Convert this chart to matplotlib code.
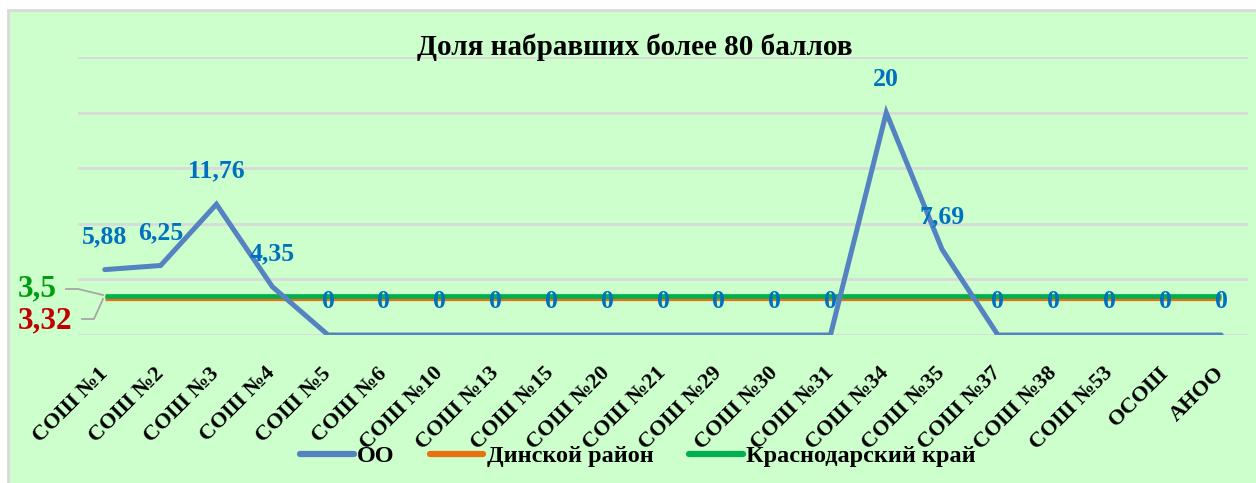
import matplotlib.pyplot as plt
from matplotlib.patches import Rectangle
from matplotlib.lines import Line2D

# data
schools = ['СОШ №1', 'СОШ №2', 'СОШ №3', 'СОШ №4', 'СОШ №5', 'СОШ №6', 'СОШ №10',
           'СОШ №13', 'СОШ №15', 'СОШ №20', 'СОШ №21', 'СОШ №29', 'СОШ №30', 'СОШ №31',
           'СОШ №34', 'СОШ №35', 'СОШ №37', 'СОШ №38', 'СОШ №53', 'ОСОШ', 'АНОО']
oo = [5.88, 6.25, 11.76, 4.35, 0, 0, 0, 0, 0, 0, 0, 0, 0, 0, 20, 7.69, 0, 0, 0, 0, 0]
district = 3.32
region = 3.5
series_names = ['ОО', 'Динской район', 'Краснодарский край']

BG = '#CCFFCC'
BLUE = '#5582C0'
LBL = '#0070C0'
ORANGE = '#E8700F'
GREEN = '#00B050'
FONT = 'Liberation Serif'

plt.rcParams['font.family'] = [FONT, 'DejaVu Serif']
plt.rcParams['font.weight'] = 'bold'

W, H = 1256, 483
fig = plt.figure(figsize=(W / 100, H / 100), dpi=100, facecolor='white')
bg = Rectangle((8 / W, -0.05), 1.2, 1 - 10 / H + 0.05, transform=fig.transFigure,
               facecolor=BG, edgecolor='#D9D9D9', linewidth=2, zorder=-10)
fig.patches.append(bg)

ax = fig.add_axes([78 / W, 1 - 335 / H, (1248 - 78) / W, (335 - 57) / H])
ax.set_zorder(1)
ax.set_facecolor('none')
x = list(range(len(schools)))
ax.set_xlim(-0.48, len(schools) - 1 + 0.48)
ax.set_ylim(0, 25)
ax.set_yticks([0, 5, 10, 15, 20, 25])
ax.yaxis.grid(True, color='#D9D9D9', linewidth=2)
ax.set_axisbelow(True)
ax.tick_params(axis='y', left=False, labelleft=False)
ax.tick_params(axis='x', bottom=False, pad=22)
for s in ax.spines.values():
    s.set_visible(False)

ax.plot(x, [district] * len(x), color=ORANGE, linewidth=3.8, solid_capstyle='butt', zorder=3)
ax.plot(x, [region] * len(x), color=GREEN, linewidth=3.4, solid_capstyle='butt', zorder=4)
ax.plot(x, oo, color=BLUE, linewidth=3.6, solid_capstyle='round', solid_joinstyle='miter', zorder=5)

for xi, v in zip(x, oo):
    txt = ('%g' % v).replace('.', ',')
    ax.annotate(txt, (xi, v), xytext=(0, 33), textcoords='offset pixels',
                ha='center', va='center', color=LBL, fontsize=18.5, fontweight='bold', zorder=6)

ax.set_xticks(x)
ax.set_xticklabels(schools, rotation=45, ha='right', va='center', rotation_mode='anchor',
                   fontsize=16, fontweight='bold')

# labels for the average lines with leader lines
fig.text(18 / W, 1 - 289 / H, '3,5', color='#009E0F', fontsize=22.5, fontweight='bold',
         ha='left', va='center')
fig.text(18 / W, 1 - 321 / H, '3,32', color='#C00000', fontsize=22.5, fontweight='bold',
         ha='left', va='center')
fig.lines.append(Line2D([66 / W, 78 / W, 103 / W], [1 - 289 / H, 1 - 289 / H, 1 - 295 / H],
                        transform=fig.transFigure, color='#A6A6A6', linewidth=1.3))
fig.lines.append(Line2D([82 / W, 94 / W, 103 / W], [1 - 319 / H, 1 - 319 / H, 1 - 299 / H],
                        transform=fig.transFigure, color='#A6A6A6', linewidth=1.3))

fig.text(635 / W, 1 - 47 / H, 'Доля набравших более 80 баллов', fontsize=21, fontweight='bold',
         ha='center', va='center')

handles = [Line2D([], [], color=BLUE, linewidth=4.5, solid_capstyle='round'),
           Line2D([], [], color=ORANGE, linewidth=4.5, solid_capstyle='round'),
           Line2D([], [], color=GREEN, linewidth=4.5, solid_capstyle='round')]
fig.legend(handles, series_names, loc='center', bbox_to_anchor=(638 / W, 1 - 456 / H), ncol=3,
           frameon=False, handlelength=2.2, handletextpad=0.15, columnspacing=1.45,
           prop={'family': FONT, 'weight': 'bold', 'size': 17.5})

fig.savefig('out.png', dpi=100, facecolor='white')
